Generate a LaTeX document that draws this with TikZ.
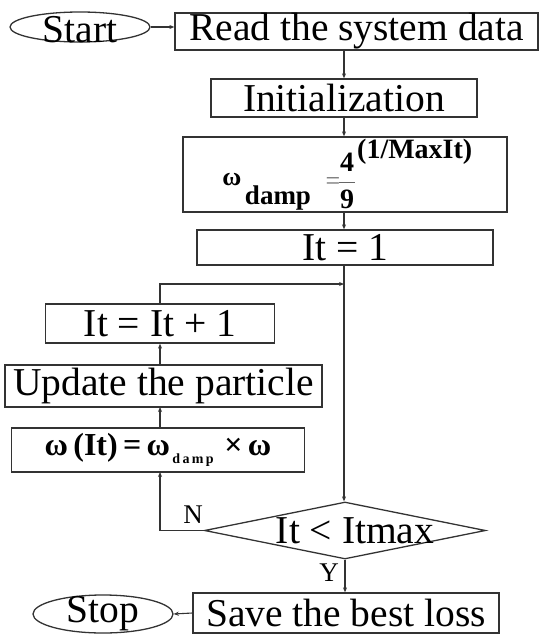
\documentclass[tikz,border=0pt]{standalone}
\usepackage{fontspec}
\setmainfont{Liberation Serif}
\usetikzlibrary{shapes.geometric,arrows.meta}
\begin{document}
\begin{tikzpicture}[x=1pt,y=-1pt,
  big/.style={font=\fontsize{39.5}{42}\selectfont},
  boxnode/.style={draw=black!80,line width=1.3pt,rectangle,inner sep=0pt,big},
  oval/.style={draw=black!80,line width=1.3pt,ellipse,inner sep=0pt},
  flow/.style={draw=black!80,line width=1.1pt,-{Stealth[length=5pt,width=4pt]}},
  lbl/.style={font=\fontsize{27}{29}\selectfont}]
\useasboundingbox (0,0) rectangle (540,635);
\node[oval,minimum width=140pt,minimum height=30pt,label={[big,yshift=-3pt]center:Start}] (start) at (80,27) {};
\node[boxnode,minimum width=363pt,minimum height=37pt] (read) at (356.5,31.5) {Read the system data};
\node[boxnode,minimum width=266pt,minimum height=38pt] (init) at (344,98) {Initialization};
\node[boxnode,minimum width=324pt,minimum height=75pt] (damp) at (345,174.5) {};
\node[font=\fontsize{26}{28}\selectfont\bfseries,inner sep=0pt,anchor=base] (w1) at (232,185) {ω};
\node[font=\fontsize{27}{29}\selectfont\bfseries,inner sep=0pt,anchor=base] (w2) at (278,204) {damp};
\node[font=\fontsize{26}{28}\selectfont,text=black!55,inner sep=0pt] (eq) at (333,184) {=};
\node[font=\fontsize{28}{30}\selectfont\bfseries,inner sep=0pt] (n4) at (347,162) {4};
\node[font=\fontsize{28}{30}\selectfont\bfseries,inner sep=0pt] (n9) at (347,199) {9};
\draw[line width=1pt,black!60] (339,182) -- (355,182);
\node[font=\fontsize{28}{30}\selectfont\bfseries,inner sep=0pt,anchor=west] (ex) at (357,152) {(1/MaxIt)};
\node[boxnode,minimum width=296pt,minimum height=35pt] (it1) at (345,247.5) {It = 1};
\node[boxnode,minimum width=229pt,minimum height=39pt] (inc) at (160,323.5) {It = It + 1};
\node[boxnode,minimum width=317pt,minimum height=42pt] (upd) at (163.5,386) {Update the particle};
\node[boxnode,minimum width=293pt,minimum height=44pt,font=\fontsize{32}{34}\selectfont\bfseries] (omg) at (158,450)
  {ω\,(It)\,=\,ω\raisebox{-8pt}{\fontsize{14}{15}\selectfont\bfseries\,d\,a\,m\,p}\,\,×\,ω};
\node[diamond,draw=black!80,line width=1.3pt,inner sep=0pt,minimum width=281pt,minimum height=57pt] (dec) at (345,530.5) {};
\node[big,inner sep=0pt] (dect) at (355,530.5) {It < Itmax};
\node[boxnode,minimum width=306pt,minimum height=40pt] (save) at (346,613) {Save the best loss};
\node[oval,minimum width=140pt,minimum height=38pt,label={[big]center:Stop}] (stop) at (103,614) {};
\coordinate (j) at (344,284);
\node[lbl,inner sep=0pt] (nl) at (193,515) {N};
\node[lbl,inner sep=0pt] (yl) at (329,573) {Y};
\draw[flow] (start.east) -- (start.east -| read.west);
\draw[flow] (init.north |- read.south) -- (init.north);
\draw[flow] (init.south) -- (init.south |- damp.north);
\draw[flow] (init.south |- damp.south) -- (init.south |- it1.north);
\draw[flow] (init.south |- it1.south) -- (init.south |- dec.north);
\draw[flow] (dec.west) -| (160,472);
\draw[flow] (160,428) -- (160,407);
\draw[flow] (inc.south |- upd.north) -- (inc.south);
\draw[flow] (inc.north) |- (j);
\draw[flow] (dec.south) -- (dec.south |- save.north);
\draw[flow] (save.west) -- (stop.east);
\end{tikzpicture}
\end{document}
